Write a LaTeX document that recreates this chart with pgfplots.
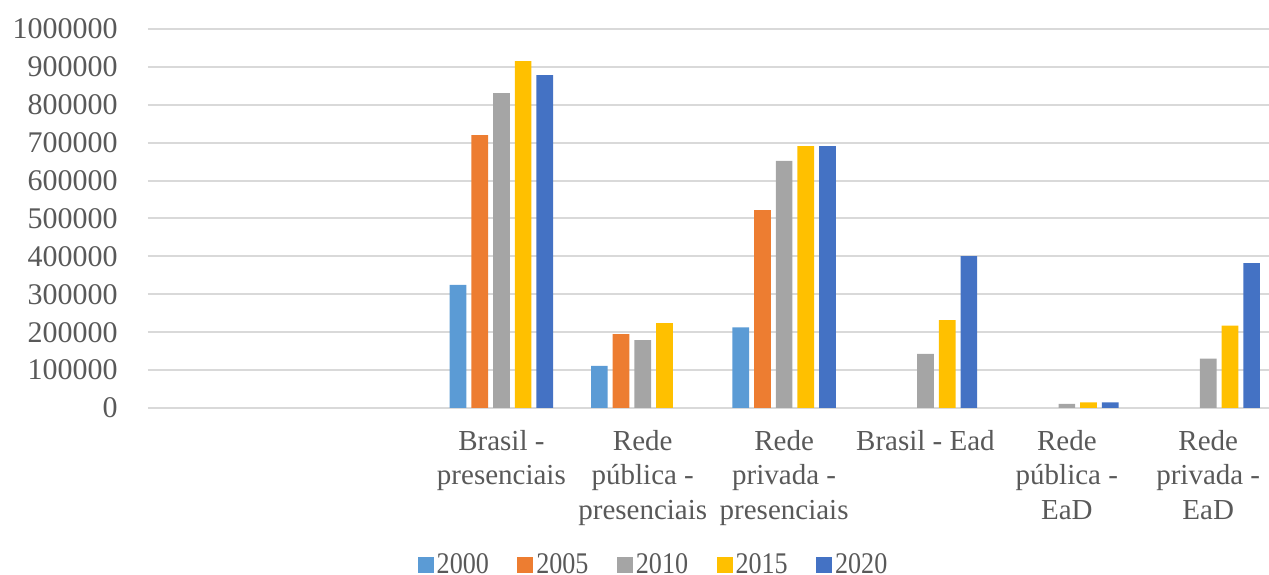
\documentclass[border=0pt]{standalone}
\usepackage{pgfplots}
\pgfplotsset{compat=1.18}
\usepackage{fontspec}
\setmainfont{Liberation Serif}
\newfontfamily\legfont[FakeStretch=0.87]{Liberation Serif}
\definecolor{c2000}{HTML}{5B9BD5}
\definecolor{c2005}{HTML}{ED7D31}
\definecolor{c2010}{HTML}{A5A5A5}
\definecolor{c2015}{HTML}{FFC000}
\definecolor{c2020}{HTML}{4472C4}
\definecolor{gridc}{HTML}{D9D9D9}
\definecolor{txt}{HTML}{595959}
\begin{document}
\begin{tikzpicture}
\begin{axis}[
  scale only axis, width=560.5pt, height=204pt,
  xmin=-0.5, xmax=7.43, ymin=0, ymax=1076500,
  enlarge x limits=false, enlarge y limits=false,
  ybar=2.5pt, bar width=8.35pt,
  axis line style={draw=none},
  major tick length=0pt, tick style={draw=none},
  ymajorgrids, grid style={color=gridc, line width=1pt},
  ytick={0,100000,200000,300000,400000,500000,600000,700000,800000,900000,1000000},
  yticklabels={0,100000,200000,300000,400000,500000,600000,700000,800000,900000,1000000},
  yticklabel style={anchor=east, inner sep=0pt, xshift=-15pt, text=txt, font=\fontsize{15}{18}\selectfont},
  xtick={2,3,4,5,6,7},
  xticklabels={{Brasil -\\presenciais},{Rede\\pública -\\presenciais},{Rede\\privada -\\presenciais},{Brasil - Ead},{Rede\\pública -\\EaD},{Rede\\privada -\\EaD}},
  xticklabel style={align=center, anchor=north, inner sep=0pt, yshift=-11pt, text=txt, font=\fontsize{14.5}{17.2}\selectfont},
  legend columns=5,
  legend image code/.code={\fill[#1] (0pt,-4pt) rectangle (8pt,4pt);},
  legend style={at={(0.4514,-0.385)}, anchor=center, draw=none, fill=none,
    font=\legfont\fontsize{15}{17}\selectfont, text=txt,
    nodes={inner xsep=1.5pt, inner ysep=1pt},
    /tikz/every even column/.append style={column sep=12.7pt}},
]
\addplot[fill=c2000, draw=none] coordinates {(2,325000) (3,111000) (4,213000)};
\addplot[fill=c2005, draw=none] coordinates {(2,720000) (3,195000) (4,522000)};
\addplot[fill=c2010, draw=none] coordinates {(2,831000) (3,179000) (4,652000) (5,143000) (6,11000) (7,130000)};
\addplot[fill=c2015, draw=none] coordinates {(2,915000) (3,224000) (4,691000) (5,232000) (6,15000) (7,217000)};
\addplot[fill=c2020, draw=none] coordinates {(2,878000) (4,691000) (5,401000) (6,15000) (7,382000)};
\legend{2000,2005,2010,2015,2020}
\end{axis}
\pgfresetboundingbox
\path[use as bounding box] ([shift={(-74pt,-83.5pt)}]current axis.south west) rectangle (current axis.north east);
\end{tikzpicture}
\end{document}
